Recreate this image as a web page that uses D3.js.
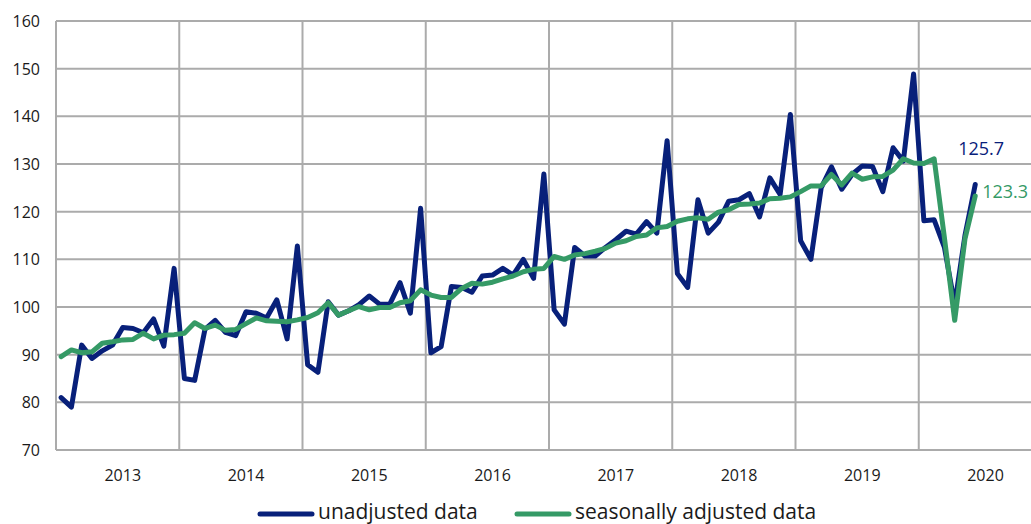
<!DOCTYPE html>
<html>
<head>
<meta charset="utf-8">
<script src="https://cdn.jsdelivr.net/npm/d3@7"></script>
<style>
  body { margin: 0; background: #fff; }
  svg { display: block; font-family: "Open Sans", sans-serif; }
</style>
</head>
<body>
<svg id="chart" width="1031" height="524"></svg>
<script>
// years on the category axis, one band per month
const years = [2013, 2014, 2015, 2016, 2017, 2018, 2019, 2020];
const yTicks = [70, 80, 90, 100, 110, 120, 130, 140, 150, 160];

// monthly index values, Jan 2013 .. Jun 2020
const unadjusted = [
  81.0, 79.0, 92.0, 89.2, 90.8, 92.0, 95.7, 95.5, 94.6, 97.5, 91.8, 108.1,
  85.0, 84.6, 95.3, 97.2, 94.7, 94.0, 99.0, 98.7, 97.7, 101.5, 93.3, 112.8,
  87.9, 86.3, 101.1, 98.3, 99.2, 100.5, 102.3, 100.6, 100.6, 105.1, 98.7, 120.7,
  90.4, 91.7, 104.3, 104.1, 103.1, 106.5, 106.7, 108.1, 106.7, 110.0, 106.0, 127.9,
  99.4, 96.4, 112.5, 110.7, 110.7, 112.5, 114.1, 115.9, 115.3, 117.9, 115.5, 134.9,
  107.0, 104.1, 122.5, 115.5, 117.8, 122.2, 122.5, 123.8, 118.9, 127.1, 123.6, 140.4,
  113.9, 110.0, 125.0, 129.4, 124.7, 127.8, 129.6, 129.5, 124.2, 133.4, 130.6, 148.9,
  118.1, 118.3, 112.5, 100.5, 115.0, 125.7
];
const adjusted = [
  89.6, 91.0, 90.4, 90.6, 92.4, 92.7, 93.1, 93.2, 94.5, 93.3, 94.1, 94.2,
  94.5, 96.7, 95.5, 96.2, 95.1, 95.3, 96.5, 97.7, 97.1, 97.0, 96.9, 97.3,
  97.8, 98.8, 100.9, 98.3, 99.2, 100.1, 99.4, 99.9, 99.9, 100.9, 101.3, 103.6,
  102.5, 102.0, 102.0, 103.9, 105.0, 104.8, 105.2, 105.9, 106.5, 107.4, 107.9, 108.1,
  110.6, 110.0, 110.9, 111.2, 111.7, 112.3, 113.4, 113.9, 114.8, 115.1, 116.6, 116.9,
  118.0, 118.5, 118.7, 118.4, 119.9, 120.4, 121.5, 121.6, 121.8, 122.7, 122.8, 123.1,
  124.2, 125.4, 125.4, 127.8, 125.6, 128.1, 126.8, 127.3, 127.4, 128.7, 131.1, 130.2,
  130.1, 131.1, 114.5, 97.2, 114.3, 123.3
];
const seriesNames = ["unadjusted data", "seasonally adjusted data"];
const seriesColors = ["#08207a", "#359a66"];

const months = [];
years.forEach(y => { for (let m = 0; m < 12; m++) months.push(y + "-" + m); });

const svg = d3.select("#chart");
const plotLeft = 56, plotRight = 1042, plotTop = 21, plotBottom = 450;

const x = d3.scaleBand().domain(months).range([plotLeft, plotRight]);
const y = d3.scaleLinear().domain([70, 160]).range([plotBottom, plotTop]);
const cx = i => x(months[i]) + x.bandwidth() / 2;

const grid = svg.append("g").attr("stroke", "#ababab").attr("stroke-width", 2);

// horizontal grid lines
grid.selectAll("line.h").data(yTicks).join("line")
  .attr("x1", plotLeft).attr("x2", 1031)
  .attr("y1", d => y(d)).attr("y2", d => y(d));

// vertical lines at each year start
grid.selectAll("line.v").data(years).join("line")
  .attr("x1", d => x(d + "-0")).attr("x2", d => x(d + "-0"))
  .attr("y1", plotTop).attr("y2", plotBottom);

// y tick labels
svg.append("g").selectAll("text").data(yTicks).join("text")
  .attr("x", 40).attr("y", d => y(d))
  .attr("text-anchor", "end").attr("dominant-baseline", "central")
  .attr("font-size", 16).attr("fill", "#1a1a1a")
  .text(d => d);

// year labels centred on July
svg.append("g").selectAll("text").data(years).join("text")
  .attr("x", d => x(d + "-6") + x.bandwidth() / 2).attr("y", 475)
  .attr("text-anchor", "middle").attr("dominant-baseline", "central")
  .attr("font-size", 16).attr("fill", "#1a1a1a")
  .text(d => d);

const line = d3.line().x((d, i) => cx(i)).y(d => y(d));

[unadjusted, adjusted].forEach((s, k) => {
  svg.append("path")
    .datum(s)
    .attr("fill", "none")
    .attr("stroke", seriesColors[k])
    .attr("stroke-width", 5)
    .attr("stroke-linejoin", "round")
    .attr("stroke-linecap", "round")
    .attr("d", line);
});

// last-value labels
const last = unadjusted.length - 1;
svg.append("text")
  .attr("x", cx(last) - 17).attr("y", 155)
  .attr("font-size", 18).attr("fill", seriesColors[0])
  .text(unadjusted[last].toFixed(1));
svg.append("text")
  .attr("x", cx(last) + 7).attr("y", 198)
  .attr("font-size", 18).attr("fill", seriesColors[1])
  .text(adjusted[last].toFixed(1));

// legend
const legendX = [260, 517];
seriesNames.forEach((n, k) => {
  svg.append("line")
    .attr("x1", legendX[k]).attr("x2", legendX[k] + 52)
    .attr("y1", 514).attr("y2", 514)
    .attr("stroke", seriesColors[k]).attr("stroke-width", 5)
    .attr("stroke-linecap", "round");
  svg.append("text")
    .attr("x", legendX[k] + 58).attr("y", 519)
    .attr("font-size", 21).attr("fill", "#1a1a1a")
    .text(n);
});
</script>
</body>
</html>
